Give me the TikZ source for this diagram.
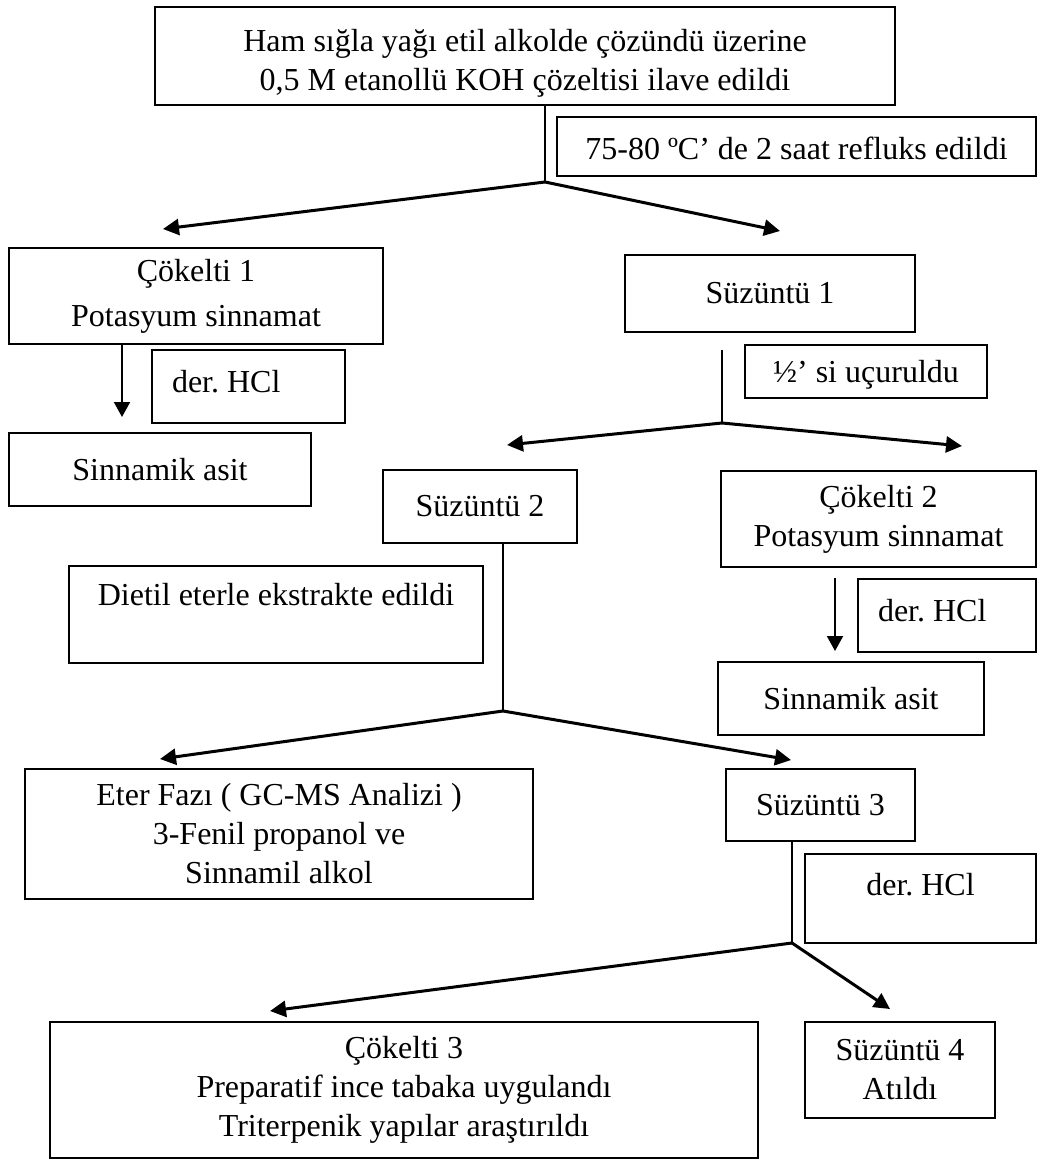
\documentclass[tikz,border=0pt]{standalone}
\usepackage{fontspec}
\setmainfont{Liberation Serif}
\usetikzlibrary{arrows.meta}

\tikzset{
  box/.style={draw, line width=1pt, align=center, inner sep=0pt,
    font=\fontsize{16}{19.5}\selectfont\frenchspacing},
  flow/.style={line width=1.5pt, -{Triangle[length=8pt,width=8pt]}},
  stem/.style={line width=0.8pt},
  drop/.style={line width=1pt, -{Triangle[length=7.5pt,width=8pt]}}
}

\begin{document}
\begin{tikzpicture}[x=0.5pt,y=-0.5pt]
    \useasboundingbox (0,0) rectangle (1038,1160);

    % Boxes
    \node[box, minimum width=370pt, minimum height=49pt] (ham) at (525,56)
      {\rule{0pt}{18pt}Ham sığla yağı etil alkolde çözündü üzerine\\0,5 M etanollü KOH çözeltisi ilave edildi};
    \node[box, minimum width=239.5pt, minimum height=29.5pt, text height=13pt] (reflux) at (796.5,146.5)
      {75-80 ºC’ de 2 saat refluks edildi};
    \node[box, minimum width=187pt, minimum height=48pt] (cok1) at (196,296)
      {Çökelti 1\\[3pt]Potasyum sinnamat};
    \node[box, minimum width=145pt, minimum height=38.5pt] (suz1) at (770,293.5)
      {Süzüntü 1};
    \node[box, minimum height=36.5pt, inner xsep=10pt, text depth=5pt] (hcl1) at (248.5,386.5)
      {\makebox[76.5pt][l]{der. HCl}};
    \node[box, minimum width=121pt, minimum height=26.5pt, text height=14pt] (half) at (866,371.5)
      {½’ si uçuruldu};
    \node[box, minimum width=151pt, minimum height=36.5pt] (asit1) at (160,469.5)
      {Sinnamik asit};
    \node[box, minimum width=97pt, minimum height=36.5pt] (suz2) at (480,506.5)
      {Süzüntü 2};
    \node[box, minimum width=157.5pt, minimum height=48pt] (cok2) at (878.5,519)
      {Çökelti 2\\Potasyum sinnamat};
    \node[box, minimum width=207pt, minimum height=48.5pt, text depth=20pt] (dietil) at (276,614.5)
      {Dietil eterle ekstrakte edildi};
    \node[box, minimum height=36.5pt, inner xsep=10pt, text depth=5pt] (hcl2) at (947,615.5)
      {\makebox[69pt][l]{der. HCl}};
    \node[box, minimum width=133pt, minimum height=36.5pt] (asit2) at (851,698.5)
      {Sinnamik asit};
    \node[box, minimum width=254pt, minimum height=65pt] (eter) at (279,834)
      {Eter Fazı ( GC-MS Analizi )\\3-Fenil propanol ve\\Sinnamil alkol};
    \node[box, minimum width=94.5pt, minimum height=36pt] (suz3) at (820.5,805)
      {Süzüntü 3};
    \node[box, minimum width=115.5pt, minimum height=44.5pt, text depth=14pt] (hcl3) at (920.5,898.5)
      {der. HCl};
    \node[box, minimum width=354pt, minimum height=68pt] (cok3) at (404,1090)
      {Çökelti 3\\Preparatif ince tabaka uygulandı\\Triterpenik yapılar araştırıldı};
    \node[box, minimum width=95pt, minimum height=48pt] (suz4) at (900,1070)
      {Süzüntü 4\\Atıldı};

    % Split after reflux
    \coordinate (s0) at (545,182);
    \coordinate (t1) at (163,229);
    \coordinate (t2) at (780,231);
    \draw[stem] (ham.south -| s0) -- (s0);
    \draw[flow] (s0) -- (t1);
    \draw[flow] (s0) -- (t2);

    % Precipitate 1 to acid
    \coordinate (t3) at (122,417);
    \draw[drop] (cok1.south -| t3) -- (t3);

    % Split after evaporation
    \coordinate (s1top) at (722,350);
    \coordinate (s1) at (722,423);
    \coordinate (t4) at (507,445);
    \coordinate (t5) at (962,446);
    \draw[stem] (s1top) -- (s1);
    \draw[flow] (s1) -- (t4);
    \draw[flow] (s1) -- (t5);

    % Precipitate 2 to acid
    \coordinate (t6top) at (835,578);
    \coordinate (t6) at (835,651);
    \draw[drop] (t6top) -- (t6);

    % Split after ether extraction
    \coordinate (s2) at (503,711);
    \coordinate (t7) at (160,759);
    \coordinate (t8) at (791,760);
    \draw[stem] (suz2.south -| s2) -- (s2);
    \draw[flow] (s2) -- (t7);
    \draw[flow] (s2) -- (t8);

    % Split after HCl
    \coordinate (s3) at (792,943);
    \coordinate (t9) at (270,1011);
    \coordinate (t10) at (890,1009);
    \draw[stem] (suz3.south -| s3) -- (s3);
    \draw[flow] (s3) -- (t9);
    \draw[flow] (s3) -- (t10);

\end{tikzpicture}
\end{document}
